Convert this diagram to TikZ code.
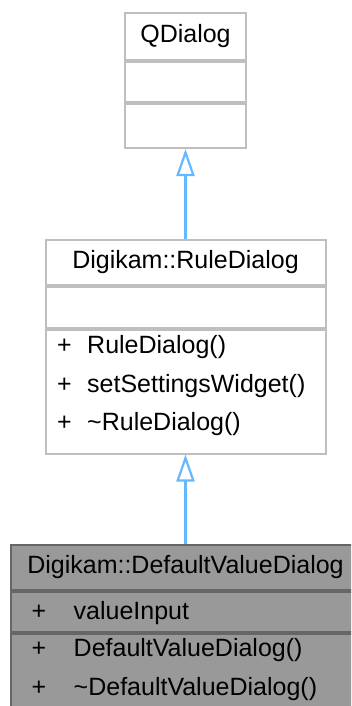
\documentclass[tikz,border=0pt]{standalone}
\usepackage{fontspec}
\setmainfont{Liberation Sans}
\usepackage{tikz}
\usetikzlibrary{arrows.meta,positioning}
\definecolor{umlline}{HTML}{BFBFBF}
\definecolor{umlarrow}{HTML}{63B8FF}
\definecolor{umlfill}{HTML}{999999}
\definecolor{umledge}{HTML}{666666}
\newcommand{\umlmember}[2]{\makebox[#1][l]{+}#2}

\begin{document}
\begin{tikzpicture}[x=1pt, y=1pt,
  cls/.style={draw=umlline, fill=white, line width=2pt, inner sep=0pt,
              font=\fontsize{25}{38.5}\selectfont},
  clsgrey/.style={cls, draw=umledge, fill=umlfill},
  members/.style={align=left, inner sep=0pt, anchor=north west,
                  font=\fontsize{25}{38.8}\selectfont},
  inherit/.style={-{Triangle[open, length=27pt, width=18pt]}, line width=2.2pt,
                  draw=umlarrow},
  node distance=0pt
]
  \useasboundingbox (0,0) rectangle (351,-706);
  \clip (0,0) rectangle (351,-706);

  % QDialog
  \node[cls, anchor=north, minimum width=121pt, minimum height=47pt]
    (qdHead) at (185.5,-12) {QDialog};
  \node[cls, below=of qdHead, minimum width=121pt, minimum height=40pt] (qdAttr) {};
  \node[cls, below=of qdAttr, minimum width=121pt, minimum height=44pt] (qdMeth) {};

  % Digikam::RuleDialog
  \node[cls, anchor=north, minimum width=280pt, minimum height=45pt]
    (rdHead) at (185.5,-239) {Digikam::RuleDialog};
  \node[cls, below=of rdHead, minimum width=280pt, minimum height=40.5pt] (rdAttr) {};
  \node[cls, below=of rdAttr, minimum width=280pt, minimum height=124pt] (rdMeth) {};
  \node[members] (rdOps) at ([xshift=12.5pt, yshift=-6.5pt]rdMeth.north west)
    {\umlmember{30pt}{RuleDialog()}\\
     \umlmember{30pt}{setSettingsWidget()}\\
     \umlmember{30pt}{\textasciitilde RuleDialog()}};

  % Digikam::DefaultValueDialog
  \node[clsgrey, anchor=north, minimum width=350pt, minimum height=45pt]
    (dvHead) at (185.5,-544) {Digikam::DefaultValueDialog};
  \node[clsgrey, below=of dvHead, minimum width=350pt, minimum height=40pt] (dvAttr) {};
  \node[members, anchor=west] (dvVars) at ([xshift=22pt, yshift=-1pt]dvAttr.west)
    {\umlmember{42pt}{valueInput}};
  \node[clsgrey, below=of dvAttr, minimum width=350pt, minimum height=85pt] (dvMeth) {};
  \node[members] (dvOps) at ([xshift=22pt, yshift=-5.5pt]dvMeth.north west)
    {\umlmember{42pt}{DefaultValueDialog()}\\
     \umlmember{42pt}{\textasciitilde DefaultValueDialog()}};

  \draw[inherit] (rdHead.north) -- (qdMeth.south);
  \draw[inherit] (dvHead.north) -- (rdMeth.south);
\end{tikzpicture}
\end{document}
